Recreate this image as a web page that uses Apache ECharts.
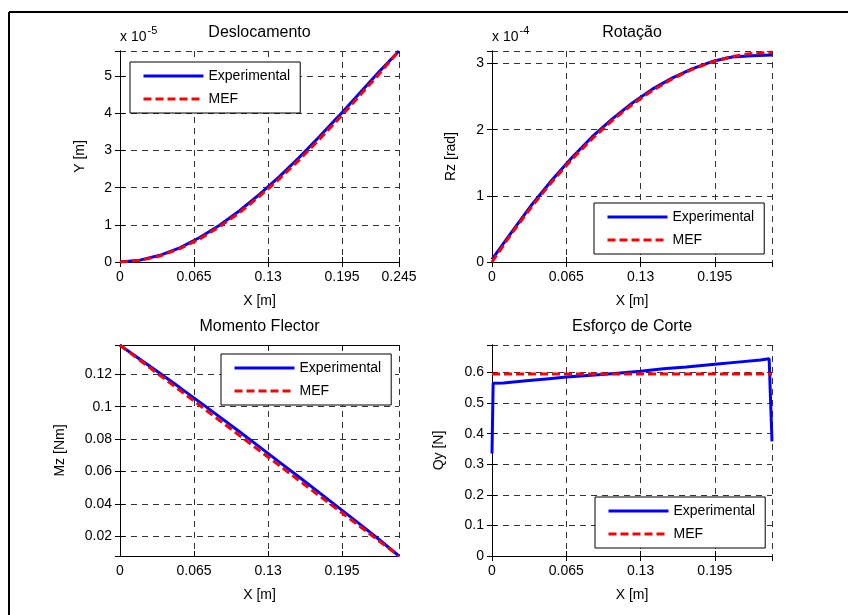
<!DOCTYPE html>
<html><head><meta charset="utf-8">
<script src="https://cdn.jsdelivr.net/npm/echarts@6/dist/echarts.min.js"></script>
<style>html,body{margin:0;padding:0;background:#fff;}#c{width:848px;height:615px;}</style>
</head><body><div id="c"></div>
<script>
// ---- data ----
const titles = ['Deslocamento', 'Rotação', 'Momento Flector', 'Esforço de Corte'];
const yNames = ['Y [m]', 'Rz [rad]', 'Mz [Nm]', 'Qy [N]'];
const xName = 'X [m]';
const seriesNames = ['Experimental', 'MEF'];
const xTicksInterval = 0.065;

const xNodes = [0, 0.0175, 0.035, 0.0525, 0.07, 0.0875, 0.105, 0.1225, 0.14, 0.1575, 0.175, 0.1925, 0.21, 0.2275, 0.245];
// Deslocamento (x 10^-5 m)
const deslExp = [0, 0.05, 0.18, 0.38, 0.66, 0.99, 1.38, 1.82, 2.30, 2.82, 3.37, 3.94, 4.53, 5.12, 5.68];
const deslMef = [0, 0.04, 0.16, 0.36, 0.62, 0.95, 1.33, 1.77, 2.24, 2.75, 3.30, 3.87, 4.46, 5.06, 5.68];
// Rotação (x 10^-4 rad)
const rotExp = [0.04, 0.46, 0.87, 1.24, 1.58, 1.89, 2.16, 2.40, 2.61, 2.78, 2.92, 3.03, 3.10, 3.12, 3.13];
const rotMef = [0, 0.437, 0.841, 1.213, 1.553, 1.860, 2.135, 2.378, 2.588, 2.766, 2.911, 3.024, 3.105, 3.154, 3.17];
// Momento Flector (Nm)
const momExp = [0.1380, 0.1293, 0.1206, 0.1118, 0.1028, 0.0937, 0.0845, 0.0752, 0.0658, 0.0564, 0.0469, 0.0374, 0.0278, 0.0180, 0.0078];
const momMef = [0.1380, 0.1287, 0.1194, 0.1101, 0.1008, 0.0915, 0.0822, 0.0729, 0.0636, 0.0543, 0.0450, 0.0357, 0.0264, 0.0171, 0.0078];
// Esforço de Corte (N)
const corteExpX = [0, 0.001, 0.01, 0.03, 0.05, 0.065, 0.09, 0.11, 0.13, 0.15, 0.17, 0.195, 0.215, 0.235, 0.2425, 0.2440, 0.245];
const corteExpY = [0.335, 0.565, 0.566, 0.573, 0.580, 0.585, 0.592, 0.598, 0.604, 0.612, 0.618, 0.627, 0.634, 0.641, 0.645, 0.645, 0.375];
const corteMefX = [0, 0.245];
const corteMefY = [0.595, 0.595];

const xMax = 0.245;
const yRanges = [[0, 5.68, 1], [0, 3.19, 1], [0.0078, 0.1381, null], [0, 0.69, 0.1]];
const exps = ['-5', '-4'];

// ---- layout ----
const grids = [
  {left: 120, top: 51, width: 279, height: 211},
  {left: 492, top: 51, width: 280, height: 211},
  {left: 120, top: 345, width: 279, height: 211},
  {left: 492, top: 345, width: 280, height: 211}
];
const yNameGaps = [33, 34, 53, 46];
const legendPos = [
  {left: 130, top: 62}, {left: 594, top: 203}, {left: 221, top: 354}, {left: 595, top: 497}
];
const FONT = 'Liberation Sans, Arial, Helvetica, sans-serif';
const fmt = v => String(+(+v).toFixed(4));
const pairs = (xs, ys) => xs.map((x, i) => [x, ys[i]]);
const dataSets = [
  [pairs(xNodes, deslExp), pairs(xNodes, deslMef)],
  [pairs(xNodes, rotExp), pairs(xNodes, rotMef)],
  [pairs(xNodes, momExp), pairs(xNodes, momMef)],
  [pairs(corteExpX, corteExpY), pairs(corteMefX, corteMefY)]
];

const gridLine = {show: true, lineStyle: {color: '#333', type: [6, 5], width: 1}};
const xAxes = [], yAxes = [], series = [], legends = [];
grids.forEach((g, i) => {
  const yr = yRanges[i];
  xAxes.push({type: 'value', gridIndex: i, min: 0, max: xMax, interval: xTicksInterval,
    name: xName, nameLocation: 'middle', nameGap: 32,
    nameTextStyle: {fontFamily: FONT, fontSize: 14, color: '#000'},
    axisLine: {show: true, lineStyle: {color: '#000', width: 1}},
    axisTick: {show: true, inside: true, length: 5, lineStyle: {color: '#000'}},
    axisLabel: {fontFamily: FONT, fontSize: 14, color: '#000', margin: 8, formatter: fmt,
      showMaxLabel: i === 0, showMinLabel: true},
    splitLine: gridLine});
  xAxes.push({type: 'value', gridIndex: i, position: 'top', min: 0, max: xMax, interval: xTicksInterval,
    axisLine: {show: true, lineStyle: {color: '#000', width: 1}},
    axisTick: {show: true, inside: true, length: 5, lineStyle: {color: '#000'}},
    axisLabel: {show: false}, splitLine: {show: false}});
  const yBase = {type: 'value', gridIndex: i, min: yr[0], max: yr[1]};
  if (yr[2] !== null) yBase.interval = yr[2]; else yBase.splitNumber = 6;
  yAxes.push(Object.assign({}, yBase, {
    name: yNames[i], nameLocation: 'middle', nameGap: yNameGaps[i],
    nameTextStyle: {fontFamily: FONT, fontSize: 14, color: '#000'},
    axisLine: {show: true, lineStyle: {color: '#000', width: 1}},
    axisTick: {show: true, inside: true, length: 5, lineStyle: {color: '#000'}},
    axisLabel: {fontFamily: FONT, fontSize: 14, color: '#000', margin: 8, formatter: fmt,
      showMaxLabel: false, showMinLabel: i !== 2},
    splitLine: gridLine}));
  yAxes.push(Object.assign({}, yBase, {position: 'right',
    axisLine: {show: true, lineStyle: {color: '#000', width: 1}},
    axisTick: {show: true, inside: true, length: 5, lineStyle: {color: '#000'}},
    axisLabel: {show: false}, splitLine: {show: false}}));
  const ds = dataSets[i];
  series.push({name: seriesNames[0], type: 'line', xAxisIndex: 2 * i, yAxisIndex: 2 * i,
    data: ds[0], symbol: 'none', lineStyle: {color: '#0000ff', width: 3}, itemStyle: {color: '#0000ff'},
    animation: false, z: 3});
  series.push({name: seriesNames[1], type: 'line', xAxisIndex: 2 * i, yAxisIndex: 2 * i,
    data: ds[1], symbol: 'none', lineStyle: {color: '#ff0000', width: 3, type: [8, 4]}, itemStyle: {color: '#ff0000'},
    animation: false, z: 4});
  legends.push(Object.assign({data: seriesNames, orient: 'vertical', itemWidth: 60, itemHeight: 14, itemGap: 9,
    padding: [7, 10, 7, 12], borderColor: '#000', borderWidth: 1, backgroundColor: '#fff',
    itemStyle: {opacity: 0, borderWidth: 0}, lineStyle: {width: 3},
    selectedMode: false, textStyle: {fontFamily: FONT, fontSize: 14, color: '#000'}, z: 10}, legendPos[i]));
});

const graphics = [
  {type: 'line', shape: {x1: 9, y1: 12, x2: 900, y2: 12}, style: {stroke: '#000', lineWidth: 2}, silent: true},
  {type: 'line', shape: {x1: 9, y1: 12, x2: 9, y2: 700}, style: {stroke: '#000', lineWidth: 2}, silent: true}
];
grids.forEach((g, i) => {
  graphics.push({type: 'text', x: g.left + g.width / 2, y: g.top - 18,
    style: {text: titles[i], fontFamily: FONT, fontSize: 16, fill: '#000', textAlign: 'center', textVerticalAlign: 'middle'}});
});
[0, 1].forEach(i => {
  const g = grids[i];
  graphics.push({type: 'text', x: g.left, y: g.top - 14,
    style: {text: '{b|x 10}{s|' + exps[i] + '}', textVerticalAlign: 'middle',
      rich: {b: {fontFamily: FONT, fontSize: 14, color: '#000'},
             s: {fontFamily: FONT, fontSize: 11, color: '#000', padding: [0, 0, 12, 1]}}}});
});

const chart = echarts.init(document.getElementById('c'), null, {renderer: 'canvas'});
chart.setOption({
  animation: false,
  backgroundColor: '#fff',
  grid: grids.map(g => Object.assign({show: false, containLabel: false}, g)),
  xAxis: xAxes, yAxis: yAxes, series: series, legend: legends, graphic: graphics
});
</script></body></html>
